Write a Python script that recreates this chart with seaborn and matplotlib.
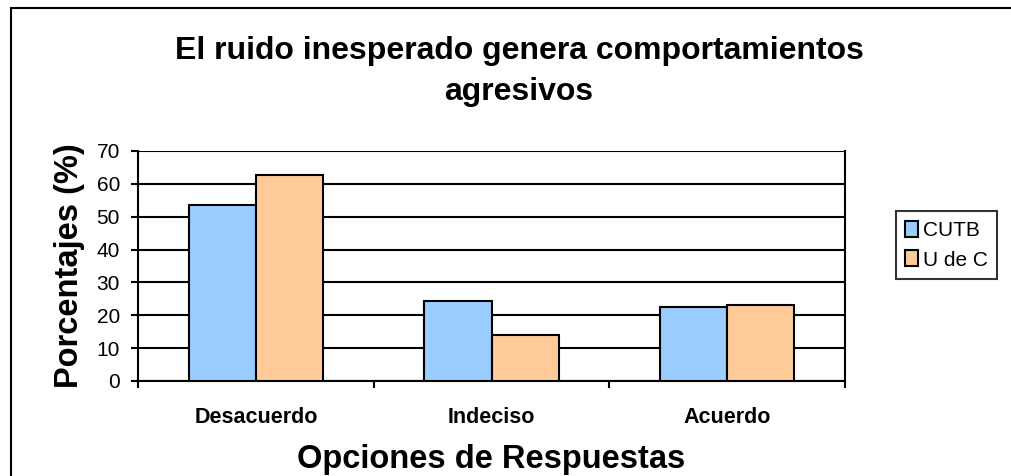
import pandas as pd
import seaborn as sns
import matplotlib.pyplot as plt
from matplotlib.patches import Rectangle

categorias = ["Desacuerdo", "Indeciso", "Acuerdo"]
cutb = [53.6, 24.3, 22.5]
udec = [62.8, 14.0, 23.2]
series = ["CUTB", "U de C"]
colores = ["#99CCFF", "#FFCC99"]

sns.set_style("white")
plt.rcParams["font.family"] = ["Liberation Sans", "DejaVu Sans"]
plt.rcParams["text.color"] = "black"
plt.rcParams["axes.labelcolor"] = "black"
plt.rcParams["xtick.color"] = "black"
plt.rcParams["ytick.color"] = "black"

df = pd.DataFrame({
    "opcion": categorias * 2,
    "grupo": [series[0]] * 3 + [series[1]] * 3,
    "valor": cutb + udec,
})

fig = plt.figure(figsize=(10.12, 4.76), dpi=100)
ax = fig.add_axes([0.1364, 0.1996, 0.6986, 0.4832])

sns.barplot(data=df, x="opcion", y="valor", hue="grupo", palette=colores,
            saturation=1, width=0.57, edgecolor="black", linewidth=1.5,
            ax=ax, zorder=3)

ax.set_ylim(0, 70)
ax.set_xlim(-0.5, 2.5)
ax.set_yticks(range(0, 71, 10))
ax.yaxis.grid(True, color="black", linewidth=1.5, zorder=0)
ax.set_axisbelow(True)
for s in ax.spines.values():
    s.set_color("black")
    s.set_linewidth(1.5)
ax.spines["top"].set_visible(False)

ax.tick_params(axis="y", direction="out", length=5, width=1.5, labelsize=15, pad=8, left=True)
ax.set_xticks([-0.5, 0.5, 1.5, 2.5], minor=True)
ax.tick_params(axis="x", which="minor", direction="out", length=5, width=1.5, bottom=True)
ax.tick_params(axis="x", which="major", length=0, pad=19)
for lbl in ax.get_xticklabels():
    lbl.set_fontweight("bold")
    lbl.set_fontsize(15.5)

ax.set_xlabel("Opciones de Respuestas", fontsize=23.5, fontweight="bold", labelpad=11)
ax.set_ylabel("Porcentajes (%)", fontsize=23.5, fontweight="bold", labelpad=8)

fig.text(0.513, 0.850, "El ruido inesperado genera comportamientos\nagresivos",
         ha="center", va="center", fontsize=23, fontweight="bold", linespacing=1.5)

ax.legend_.remove()
handles, labels = ax.get_legend_handles_labels()
leg = fig.legend(handles, labels, loc="center left", bbox_to_anchor=(0.875, 0.485),
                 frameon=True, fancybox=False, edgecolor="black", fontsize=15,
                 handlelength=0.6, handleheight=0.8, handletextpad=0.25,
                 borderpad=0.45, labelspacing=0.5)
leg.get_frame().set_linewidth(1.5)

fig.patches.append(Rectangle((0.011, -0.01), 1.0, 0.993, transform=fig.transFigure,
                             fill=False, edgecolor="black", linewidth=1.5))

fig.savefig("out.png", dpi=100)
